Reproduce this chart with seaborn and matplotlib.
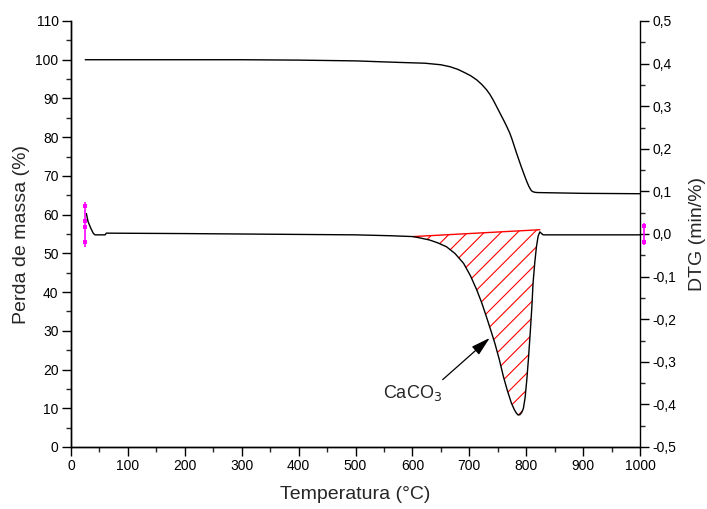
import numpy as np
import pandas as pd
import matplotlib
matplotlib.use("Agg")
import matplotlib.pyplot as plt
from matplotlib.ticker import MultipleLocator, FuncFormatter
import seaborn as sns

# TG curve: mass (%) vs temperature (°C)
tg_temp = [25, 100, 200, 300, 400, 500, 578, 622, 650, 666, 680, 690, 702, 713,
           722, 730, 736, 742, 748, 755, 761, 766, 771, 775, 779, 783, 787, 791,
           795, 798, 802, 805, 809, 812, 816, 820, 859, 900, 1000]
tg_mass = [100.0, 100.0, 100.0, 100.0, 99.9, 99.7, 99.3, 99.1, 98.7, 98.2, 97.5,
           96.8, 95.9, 94.8, 93.6, 92.3, 91.1, 89.6, 87.9, 85.9, 84.2, 82.7,
           81.1, 79.5, 77.7, 75.9, 74.2, 72.5, 70.9, 69.7, 68.2, 67.2, 66.2, 65.9,
           65.75, 65.7, 65.6, 65.5, 65.4]

# DTG curve (min/%) vs temperature (°C)
dtg_temp = [27, 30, 35, 39, 42, 60, 62, 200, 300, 400, 500, 560, 600, 609, 630,
            645, 660, 675, 690, 702, 713, 722, 730, 738, 745, 753, 760, 767, 774,
            779, 783, 786, 789, 792, 795, 798, 801, 804, 807, 810, 812, 815, 818,
            821, 824, 827, 830, 900, 1000]
dtg_val = [0.048, 0.029, 0.013, 0.002, -0.002, -0.002, 0.002, 0.001, 0.0, -0.001,
           -0.002, -0.004, -0.006, -0.008, -0.014, -0.021, -0.030, -0.046, -0.069,
           -0.098, -0.131, -0.162, -0.194, -0.227, -0.257, -0.296, -0.335, -0.368,
           -0.397, -0.412, -0.421, -0.425, -0.424, -0.419, -0.410, -0.385, -0.343,
           -0.292, -0.233, -0.170, -0.116, -0.068, -0.030, -0.005, 0.005, 0.001,
           -0.002, -0.002, -0.002]

# integration baseline of the CaCO3 decomposition peak
base_temp = [602, 824]
base_val = [-0.006, 0.010]

# cursor markers on the DTG curve
cur_left_temp = 24.6
cur_left_span = [-0.030, 0.076]
cur_left_val = [0.066, 0.031, 0.017, -0.018]
cur_right_temp = 1007
cur_right_span = [-0.026, 0.026]
cur_right_val = [0.019, -0.018]

tg = pd.DataFrame({"T": tg_temp, "m": tg_mass})
dtg = pd.DataFrame({"T": dtg_temp, "d": dtg_val})

sns.set_style("ticks")
plt.rcParams["font.family"] = ["Liberation Sans", "DejaVu Sans"]
plt.rcParams["hatch.color"] = "red"
plt.rcParams["hatch.linewidth"] = 0.8

W, H = 707, 509
fig = plt.figure(figsize=(W / 100, H / 100), dpi=100)
ax = fig.add_axes([71 / W, 62 / H, 569 / W, 426 / H])
ax2 = ax.twinx()

sns.lineplot(data=tg, x="T", y="m", ax=ax, color="black", lw=1.0,
             estimator=None, sort=False)

# hatched area between the DTG peak and its baseline
T = np.array(dtg_temp, dtype=float)
D = np.array(dtg_val, dtype=float)
sel = (T >= base_temp[0]) & (T <= base_temp[1])
Ts = np.concatenate([[base_temp[0]], T[sel], [base_temp[1]]])
Ds = np.concatenate([[np.interp(base_temp[0], T, D)], D[sel],
                     [np.interp(base_temp[1], T, D)]])
Bs = np.interp(Ts, base_temp, base_val)
ax2.fill_between(Ts, Ds, Bs, facecolor="none", edgecolor="red", hatch="//",
                 linewidth=0)
sns.lineplot(x=base_temp, y=base_val, ax=ax2, color="red", lw=1.0)

sns.lineplot(data=dtg, x="T", y="d", ax=ax2, color="black", lw=1.0,
             estimator=None, sort=False)

# data cursors
for xc, span, vals in ((cur_left_temp, cur_left_span, cur_left_val),
                       (cur_right_temp, cur_right_span, cur_right_val)):
    ax2.vlines(xc, span[0], span[1], color="magenta", lw=1.2, clip_on=False,
               zorder=5)
    ax2.scatter([xc] * len(vals), vals, marker="s", s=9, color="magenta",
                clip_on=False, zorder=6, linewidths=0)

ax2.annotate("CaCO$_3$", xy=(736, -0.244), xytext=(548, -0.373),
             fontsize=13, va="center", ha="left",
             arrowprops=dict(arrowstyle="-|>,head_length=0.9,head_width=0.25",
                             color="black", lw=0.9, shrinkA=0, shrinkB=0,
                             relpos=(0.95, 1.0)))

ax.set_xlim(0, 1000)
ax.set_ylim(0, 110)
ax2.set_ylim(-0.5, 0.5)

ax.xaxis.set_major_locator(MultipleLocator(100))
ax.xaxis.set_minor_locator(MultipleLocator(50))
ax.yaxis.set_major_locator(MultipleLocator(10))
ax.yaxis.set_minor_locator(MultipleLocator(5))
ax2.yaxis.set_major_locator(MultipleLocator(0.1))
ax2.yaxis.set_minor_locator(MultipleLocator(0.05))


def comma(v, pos):
    v = round(v, 2)
    if abs(v) < 1e-9:
        v = 0.0
    return f"{v:.1f}".replace(".", ",")


ax2.yaxis.set_major_formatter(FuncFormatter(comma))

for a in (ax, ax2):
    a.tick_params(which="major", length=6.5, width=1.0, labelsize=10,
                  pad=2.5, colors="black")
    a.tick_params(which="minor", length=3.6, width=1.0)
    for s in a.spines.values():
        s.set_linewidth(1.0)
        s.set_color("black")
    a.spines["top"].set_visible(False)

ax.tick_params(axis="y", which="both", left=True, right=False)
ax.tick_params(axis="x", which="both", top=False, bottom=True)
ax2.tick_params(axis="y", which="both", right=True, left=False)
ax.spines["right"].set_visible(False)

ax.set_xlabel("Temperatura (°C)", fontsize=14, labelpad=9)
ax.set_ylabel("Perda de massa (%)", fontsize=14, labelpad=4)
ax2.set_ylabel("DTG (min/%)", fontsize=14, labelpad=9)

fig.savefig("out.png", dpi=100, facecolor="white")
